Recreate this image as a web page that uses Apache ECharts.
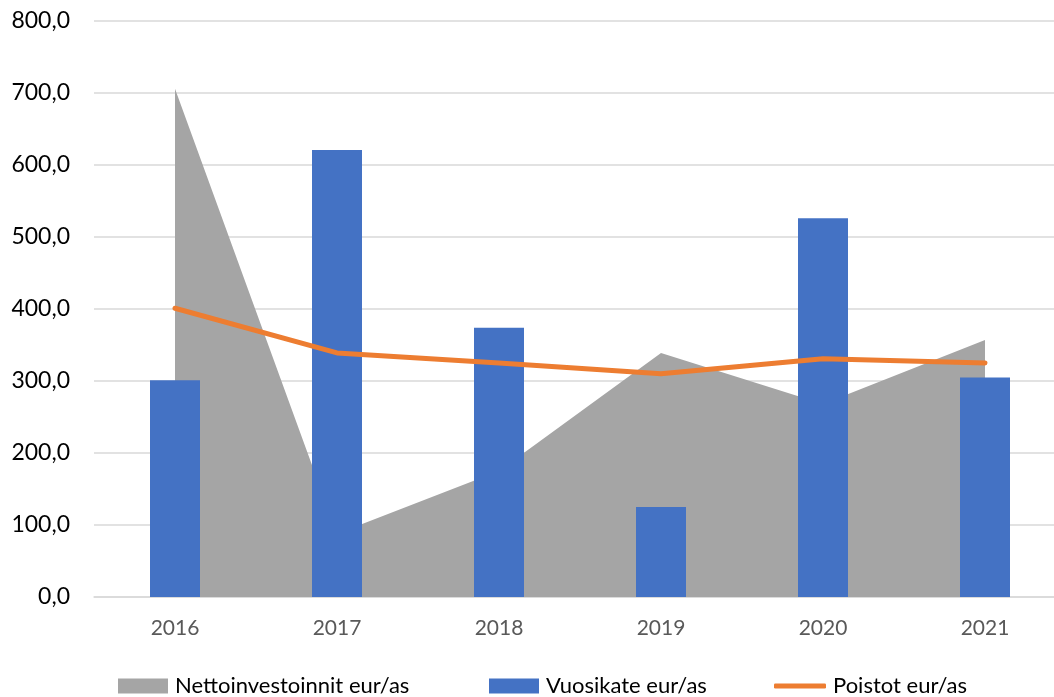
<!DOCTYPE html>
<html>
<head>
<meta charset="utf-8">
<script src="https://cdn.jsdelivr.net/npm/echarts@6/dist/echarts.min.js"></script>
<style>
  html, body { margin: 0; padding: 0; background: #fff; overflow: hidden; }
  #chart { width: 1066px; height: 697px; }
</style>
</head>
<body>
<div id="chart"></div>
<script>
// vuodet
var years = ['2016', '2017', '2018', '2019', '2020', '2021'];
// Nettoinvestoinnit eur/as (harmaa alue)
var nettoinvestoinnit = [706, 88, 175, 339, 268, 357];
// Vuosikate eur/as (palkit)
var vuosikate = [301, 621, 374, 125, 526, 305];
// Poistot eur/as (viiva)
var poistot = [401, 339, 325, 310, 331, 325];

var fontName = 'Lato, "Open Sans", sans-serif';
var legendText = { fontFamily: fontName, fontSize: 22, color: '#000', padding: [0, 0, 0, 2] };

var chart = echarts.init(document.getElementById('chart'));
chart.setOption({
  animation: false,
  grid: { left: 94, top: 21, right: 0, height: 576, containLabel: false },
  legend: [
    { data: [{ name: 'Nettoinvestoinnit eur/as', icon: 'rect' }], left: 113, top: 670,
      itemWidth: 50, itemHeight: 15, itemGap: 0, textStyle: legendText },
    { data: [{ name: 'Vuosikate eur/as', icon: 'rect' }], left: 484, top: 670,
      itemWidth: 50, itemHeight: 15, itemGap: 0, textStyle: legendText },
    { data: [{ name: 'Poistot eur/as', icon: 'roundRect' }], left: 769, top: 670,
      itemWidth: 52, itemHeight: 5, itemGap: 0, textStyle: legendText,
      itemStyle: { color: '#ed7d31' } }
  ],
  xAxis: {
    type: 'category',
    data: years,
    boundaryGap: true,
    axisLine: { lineStyle: { color: '#d9d9d9', width: 1.5 } },
    axisTick: { show: false },
    axisLabel: { margin: 21, fontFamily: fontName, fontSize: 21, color: '#595959' }
  },
  yAxis: {
    type: 'value',
    min: 0, max: 800, interval: 100,
    axisLine: { show: false },
    axisTick: { show: false },
    splitLine: { lineStyle: { color: '#d9d9d9', width: 1.5 } },
    axisLabel: {
      margin: 24, fontFamily: fontName, fontSize: 23, color: '#000',
      formatter: function (v) { return v.toFixed(1).replace('.', ','); }
    }
  },
  series: [
    {
      name: 'Nettoinvestoinnit eur/as',
      type: 'line',
      data: nettoinvestoinnit,
      symbol: 'none',
      lineStyle: { width: 0 },
      itemStyle: { color: '#a5a5a5' },
      areaStyle: { color: '#a5a5a5', opacity: 1 },
      z: 1
    },
    {
      name: 'Vuosikate eur/as',
      type: 'bar',
      data: vuosikate,
      barWidth: 50,
      itemStyle: { color: '#4472c4' },
      z: 2
    },
    {
      name: 'Poistot eur/as',
      type: 'line',
      data: poistot,
      symbol: 'none',
      lineStyle: { width: 5, color: '#ed7d31', cap: 'round' },
      itemStyle: { color: '#ed7d31' },
      z: 3
    }
  ]
});
</script>
</body>
</html>
